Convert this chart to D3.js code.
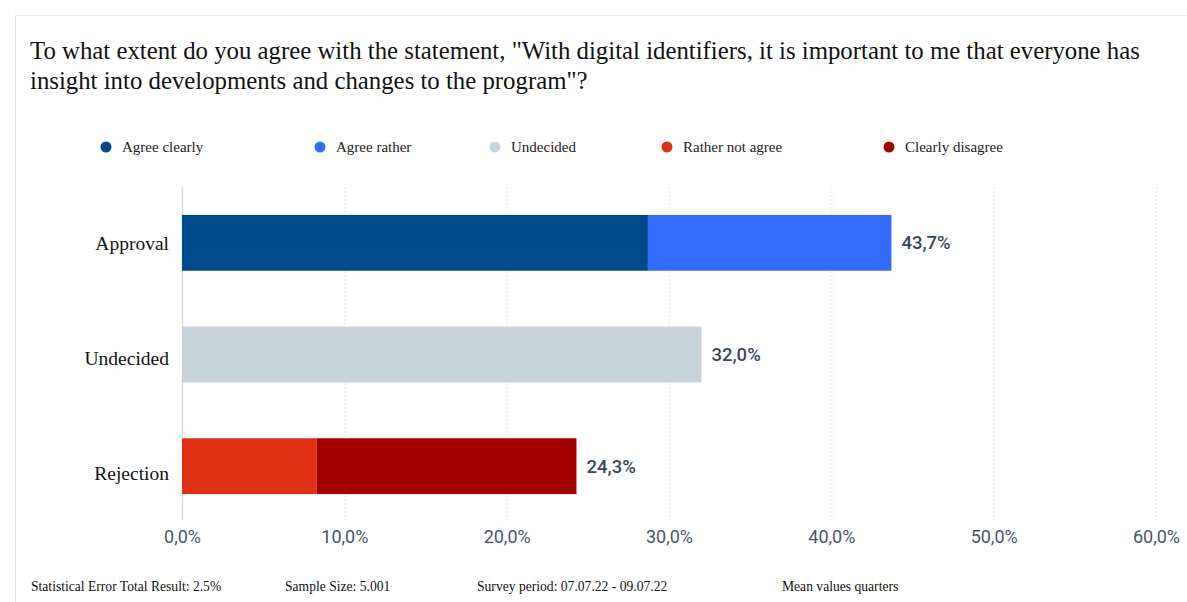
<!DOCTYPE html>
<html>
<head>
<meta charset="utf-8">
<script src="https://cdn.jsdelivr.net/npm/d3@7"></script>
<style>
  html, body { margin: 0; padding: 0; background: #fff; }
  svg { display: block; }
</style>
</head>
<body>
<svg id="chart" width="1187" height="602"></svg>
<script>
// Survey answers grouped into three bars
const categories = ["Approval", "Undecided", "Rejection"];
const seriesNames = ["Agree clearly", "Agree rather", "Undecided", "Rather not agree", "Clearly disagree"];
const seriesColors = ["#004a8c", "#336cfb", "#c8d4dc", "#e03015", "#a50000"];
// Share per answer (percent), per category
const agreeClearly    = [28.7, 0, 0];
const agreeRather     = [15.0, 0, 0];
const undecided       = [0, 32.0, 0];
const ratherNotAgree  = [0, 0, 8.3];
const clearlyDisagree = [0, 0, 16.0];
const totals = [43.7, 32.0, 24.3];
const tickValues = [0, 10, 20, 30, 40, 50, 60];

const titleLines = [
  "To what extent do you agree with the statement, \"With digital identifiers, it is important to me that everyone has",
  "insight into developments and changes to the program\"?"
];
const footerItems = [
  "Statistical Error Total Result: 2.5%",
  "Sample Size: 5.001",
  "Survey period: 07.07.22 - 09.07.22",
  "Mean values quarters"
];

const seriesValues = [agreeClearly, agreeRather, undecided, ratherNotAgree, clearlyDisagree];
const rows = categories.map((c, i) => {
  const r = { category: c };
  seriesNames.forEach((s, j) => r[s] = seriesValues[j][i]);
  return r;
});
const stacked = d3.stack().keys(seriesNames)(rows);

const svg = d3.select("#chart");
const serif = "'Liberation Serif', 'Times New Roman', serif";
const sans = "Roboto, 'Noto Sans', sans-serif";

// card outline
svg.append("rect")
  .attr("x", 15.5).attr("y", 15.5).attr("width", 1190).attr("height", 600)
  .attr("fill", "#fff").attr("stroke", "#e6e6e6");

// title
svg.append("g").selectAll("text").data(titleLines).join("text")
  .attr("x", 30).attr("y", (d, i) => 59 + i * 30)
  .attr("font-family", serif).attr("font-size", 24.8).attr("fill", "#111")
  .text(d => d);

// legend
const legendX = [106, 320, 495, 667, 889];
const legend = svg.append("g").selectAll("g").data(seriesNames).join("g")
  .attr("transform", (d, i) => `translate(${legendX[i]},147)`);
legend.append("circle").attr("r", 5.5).attr("fill", (d, i) => seriesColors[i]);
legend.append("text").attr("x", 16).attr("dy", "0.32em")
  .attr("font-family", serif).attr("font-size", 15).attr("fill", "#222")
  .text(d => d);

// scales
const x = d3.scaleLinear().domain([0, 60]).range([182, 1156]);
const y = d3.scaleBand().domain(categories).range([187, 522]).paddingInner(0.5).paddingOuter(0.25);
// category labels sit on their own, slightly wider spread
const yLabel = d3.scalePoint().domain(categories).range([243, 473]);

// grid lines
svg.append("g").selectAll("line").data(tickValues).join("line")
  .attr("x1", d => x(d) + 0.5).attr("x2", d => x(d) + 0.5)
  .attr("y1", 187).attr("y2", 520)
  .attr("stroke", d => d === 0 ? "#dcdcdc" : "#e6e6e6")
  .attr("stroke-width", d => d === 0 ? 1.5 : 1)
  .attr("stroke-dasharray", d => d === 0 ? null : "2,2");

// bars
svg.append("g").selectAll("g").data(stacked).join("g")
  .attr("fill", (d, i) => seriesColors[i])
  .selectAll("rect").data(d => d.filter(p => p[1] > p[0])).join("rect")
  .attr("x", d => x(d[0]))
  .attr("width", d => x(d[1]) - x(d[0]))
  .attr("y", d => y(d.data.category))
  .attr("height", y.bandwidth());

// total labels
const fmt = v => d3.format(".1f")(v).replace(".", ",") + "%";
svg.append("g").selectAll("text").data(categories).join("text")
  .attr("x", (d, i) => x(totals[i]) + 10)
  .attr("y", d => y(d) + y.bandwidth() / 2)
  .attr("dy", "0.35em")
  .attr("font-family", sans).attr("font-size", 18.5).attr("font-weight", 500)
  .attr("fill", "#3b4758")
  .text((d, i) => fmt(totals[i]));

// category labels
svg.append("g").selectAll("text").data(categories).join("text")
  .attr("x", 169).attr("y", d => yLabel(d))
  .attr("dy", "0.35em").attr("text-anchor", "end")
  .attr("font-family", serif).attr("font-size", 19.5).attr("fill", "#111")
  .text(d => d);

// x axis
const axis = svg.append("g").attr("transform", "translate(0,520)")
  .call(d3.axisBottom(x).tickValues(tickValues).tickSize(0).tickPadding(10).tickFormat(fmt));
axis.select(".domain").remove();
axis.selectAll("text")
  .attr("font-family", sans).attr("font-size", 18).attr("fill", "#45556b");

// footer
const footerX = [31, 285, 477, 782];
svg.append("g").selectAll("text").data(footerItems).join("text")
  .attr("x", (d, i) => footerX[i]).attr("y", 591)
  .attr("font-family", serif).attr("font-size", 13.6).attr("fill", "#111")
  .text(d => d);
</script>
</body>
</html>
